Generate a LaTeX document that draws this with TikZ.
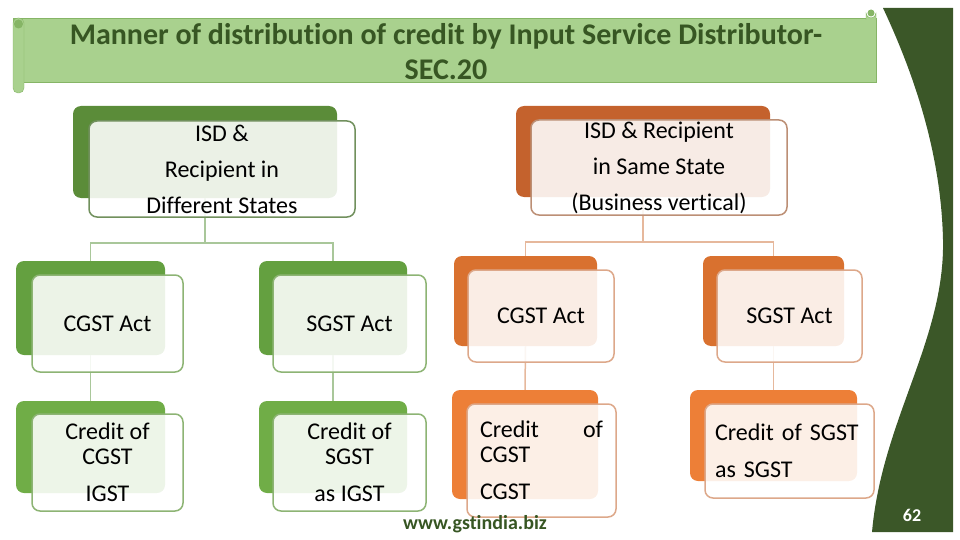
\documentclass[tikz,border=0pt]{standalone}
\usepackage{fontspec}
\setmainfont{Carlito}[Ligatures=NoCommon]
\definecolor{gdark}{HTML}{5B8C39}
\definecolor{gmid}{HTML}{64A040}
\definecolor{glight}{HTML}{70AD47}
\definecolor{gline}{HTML}{A9C79A}
\definecolor{gedge}{HTML}{8DB474}
\definecolor{odark}{HTML}{C4622D}
\definecolor{omid}{HTML}{D9712F}
\definecolor{olight}{HTML}{ED7F37}
\definecolor{oline}{HTML}{E6B89C}
\definecolor{oedge}{HTML}{DDA88A}
\definecolor{banner}{HTML}{A9D18E}
\definecolor{bannerdk}{HTML}{86B566}
\definecolor{titlegreen}{HTML}{375623}
\definecolor{pagegreen}{HTML}{3B5728}
\begin{document}
\begin{tikzpicture}[x=1pt, y=-1pt,
  back/.style={rounded corners=8pt, inner sep=0pt},
  front/.style={rounded corners=8pt, inner sep=0pt, line width=1.5pt,
    fill=white, fill opacity=0.88, text opacity=1, text=black},
  gfront/.style={front, draw=gedge},
  ofront/.style={front, draw=oedge},
  glink/.style={gline, line width=1.5pt},
  olink/.style={oline, line width=1.5pt},
  txt/.style={font=\fontsize{24}{25}\selectfont}]
  \useasboundingbox (0,0) rectangle (960,540);
  % page corner
  \fill[pagegreen] (883,8) -- (953,8) -- (953,532) -- (872,532)
    .. controls (882,420) and (945,340) .. (943,240)
    .. controls (941,150) and (912,70) .. (883,8);
  % title banner
  \draw[bannerdk, fill=banner] (13,18) rectangle (876,82);
  \draw[bannerdk, fill=banner, rounded corners=5pt] (13,18) rectangle (24,93);
  \fill[bannerdk] (18.5,24) circle (4.5);
  \draw[bannerdk, fill=banner] (866,20) -- (866,13) arc (180:0:5) -- (876,20);
  \fill[bannerdk] (871,13) circle (3.5);
  \node[font=\bfseries\fontsize{30}{35}\selectfont, text=titlegreen, align=center]
    (title) at (446,52) {Manner of distribution of credit by Input Service Distributor-\\SEC.20};
  % back boxes, green side
  \node[back, fill=gdark, minimum width=264pt, minimum height=92pt] (diff-b) at (205,152) {};
  \node[back, fill=gmid, minimum width=149pt, minimum height=94pt] (dcgst-b) at (90.5,308) {};
  \node[back, fill=gmid, minimum width=148pt, minimum height=94pt] (dsgst-b) at (333,308) {};
  \node[back, fill=glight, minimum width=149pt, minimum height=92pt] (dcred-b) at (90.5,447) {};
  \node[back, fill=glight, minimum width=148pt, minimum height=92pt] (dsred-b) at (333,447) {};
  % back boxes, orange side
  \node[back, fill=odark, minimum width=254pt, minimum height=91pt] (same-b) at (643,151.5) {};
  \node[back, fill=omid, minimum width=143pt, minimum height=90pt] (scgst-b) at (525.5,301) {};
  \node[back, fill=omid, minimum width=141pt, minimum height=90pt] (ssgst-b) at (773.5,301) {};
  \node[back, fill=olight, minimum width=146pt, minimum height=109pt] (scred-b) at (525,444.5) {};
  \node[back, fill=olight, minimum width=167pt, minimum height=91pt] (ssred-b) at (773.5,435.5) {};
  % connectors
  \draw[glink] (diff-b.south) -- ++(0,45) -| (dcgst-b.north);
  \draw[glink] (diff-b.south) -- ++(0,45) -| (dsgst-b.north);
  \draw[glink] (dcgst-b.south) -- (dcred-b.north);
  \draw[glink] (dsgst-b.south) -- (dsred-b.north);
  \draw[olink] (same-b.south) -- ++(0,45) -| (scgst-b.north);
  \draw[olink] (same-b.south) -- ++(0,45) -| (ssgst-b.north);
  \draw[olink] (scgst-b.south) -- (scred-b.north);
  \draw[olink] (ssgst-b.south) -- (ssred-b.north);
  % front boxes, green side
  \node[gfront, draw=gedge!80!black, minimum width=266pt, minimum height=96pt, align=center,
    font=\fontsize{24}{36}\selectfont] (diff) at (222,169)
    {ISD \&\\Recipient in\\Different States};
  \node[gfront, txt, minimum width=151pt, minimum height=97pt] (dcgst) at (107.5,323.5) {CGST Act};
  \node[gfront, txt, minimum width=153pt, minimum height=97pt] (dsgst) at (349.5,323.5) {SGST Act};
  \node[gfront, txt, align=center, minimum width=151pt, minimum height=97pt] (dcred) at (107.5,462.5)
    {Credit of\\CGST\\[12pt]IGST};
  \node[gfront, txt, align=center, minimum width=153pt, minimum height=97pt] (dsred) at (349.5,462.5)
    {Credit of\\SGST\\[12pt]as IGST};
  % front boxes, orange side
  \node[ofront, draw=oedge!85!black, minimum width=256pt, minimum height=95pt, align=center,
    font=\fontsize{24}{36}\selectfont] (same) at (659,167.5)
    {ISD \& Recipient\\in Same State\\(Business vertical)};
  \node[ofront, txt, minimum width=146pt, minimum height=92pt] (scgst) at (541,316) {CGST Act};
  \node[ofront, txt, minimum width=145pt, minimum height=92pt] (ssgst) at (789.5,316) {SGST Act};
  \node[ofront, txt, align=left, text width=123pt, inner xsep=13pt, minimum height=113pt] (scred) at (541.5,460.5)
    {Credit\hfill of\\CGST\\[12pt]CGST};
  \node[ofront, txt, align=left, text width=149pt, inner xsep=10pt, minimum height=94pt] (ssred) at (789.5,451)
    {Credit of SGST\\[12pt]as SGST};
  % footer
  \node[font=\bfseries\fontsize{20}{20}\selectfont, text=titlegreen] (site) at (475,524) {www.gstindia.biz};
  \node[font=\bfseries\fontsize{18}{18}\selectfont, text=white] (page) at (912,515) {62};
\end{tikzpicture}
\end{document}
